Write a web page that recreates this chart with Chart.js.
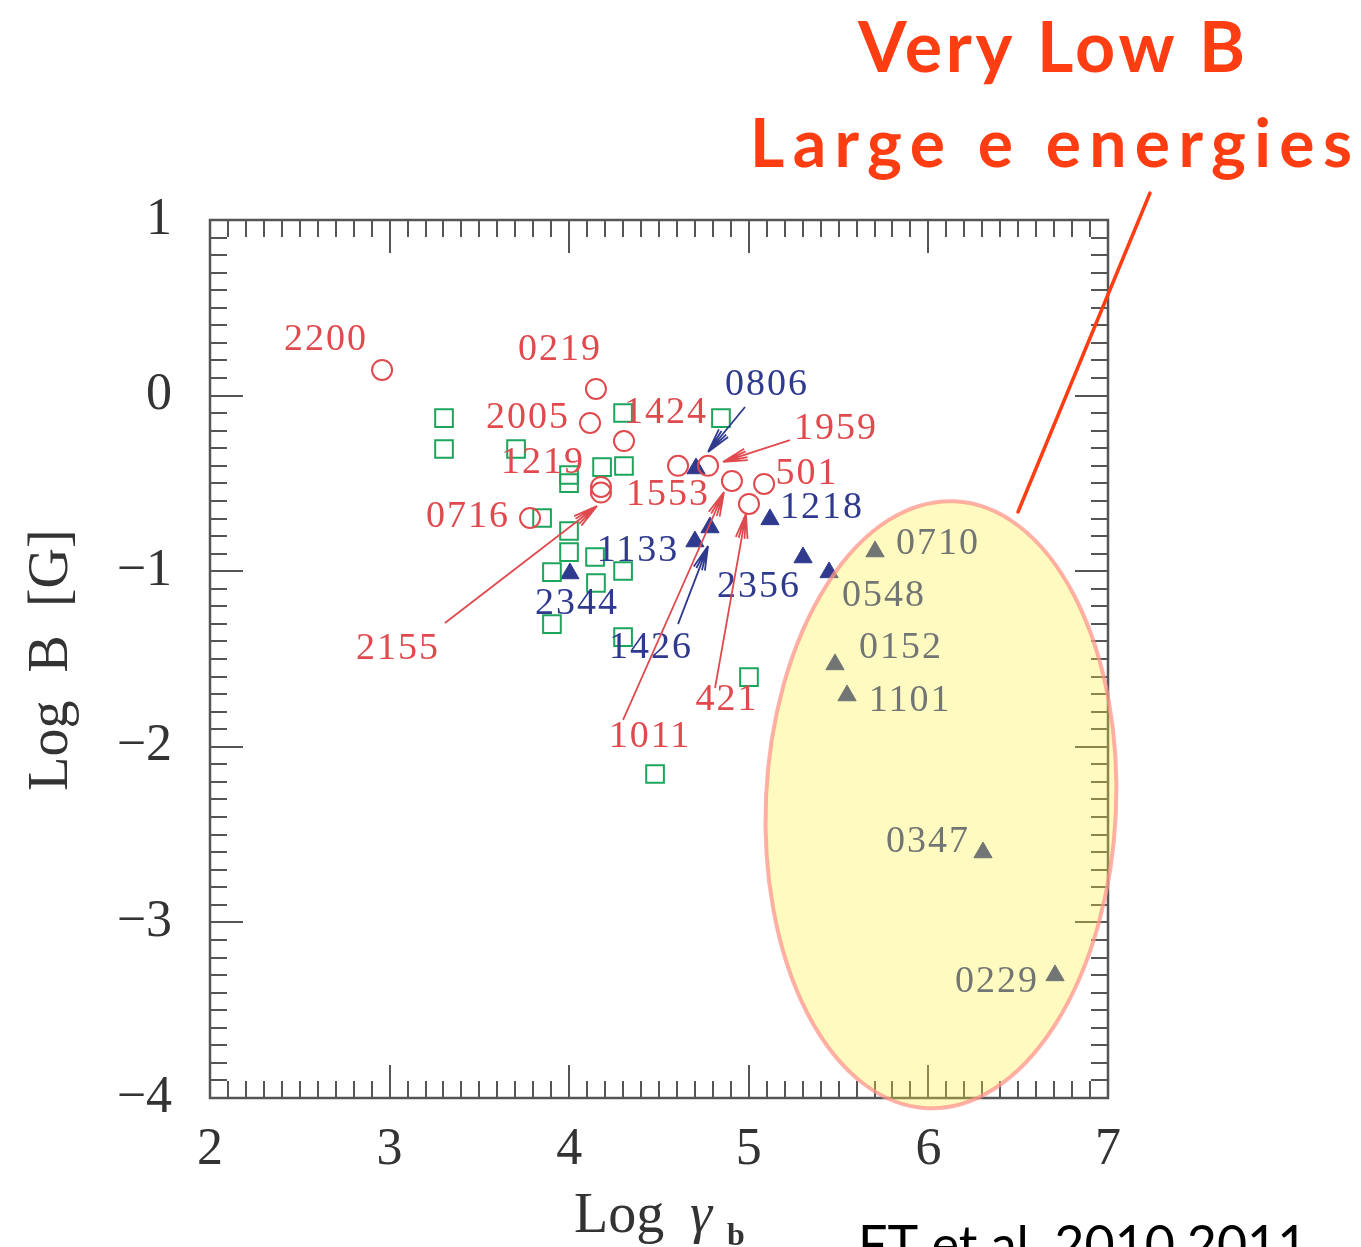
<!DOCTYPE html>
<html>
<head>
<meta charset="utf-8">
<script src="https://cdn.jsdelivr.net/npm/chart.js@4/dist/chart.umd.min.js"></script>
<style>
  html, body { margin: 0; padding: 0; background: #fff; }
  #wrap { width: 1361px; height: 1247px; position: relative; overflow: hidden; }
</style>
</head>
<body>
<div id="wrap"><canvas id="plot" width="1361" height="1247"></canvas></div>
<script>
// ---- data: log gamma_b (x) vs log B (y) ----
// red open circles
const circleX = [2.958, 4.149, 4.116, 4.305, 4.177, 4.177, 3.782, 4.606, 4.773, 4.906, 5.085, 5.001];
const circleY = [0.146, 0.038, -0.156, -0.259, -0.520, -0.552, -0.697, -0.400, -0.400, -0.486, -0.503, -0.617];

// green open squares
const squareX = [3.303, 3.303, 3.704, 3.849, 4.300, 4.845, 3.999, 3.999, 4.183, 4.305,
                 3.999, 3.999, 4.144, 3.904, 4.300, 4.149, 3.904, 4.300, 5.001, 4.478];
const squareY = [-0.128, -0.304, -0.304, -0.697, -0.099, -0.128, -0.452, -0.498, -0.407, -0.401,
                 -0.771, -0.891, -0.919, -1.005, -0.999, -1.067, -1.301, -1.375, -1.603, -2.155];

// blue filled triangles
const triX = [4.706, 4.784, 4.700, 5.118, 5.302, 4.004, 5.447, 5.703, 5.480, 5.547, 6.304, 6.705];
const triY = [-0.415, -0.751, -0.831, -0.705, -0.922, -1.013, -1.007, -0.888, -1.531, -1.708, -2.602, -3.302];

// source names, placed in data coordinates
const redNames  = ['2200', '0219', '2005', '1424', '1219', '0716', '1553', '501', '1959', '2155', '421', '1011'];
const redNameX  = [2.646, 3.949, 3.771, 4.539, 3.854, 3.437, 4.550, 5.324, 5.486, 3.047, 4.879, 4.450];
const redNameY  = [0.317, 0.260, -0.128, -0.099, -0.384, -0.691, -0.566, -0.446, -0.190, -1.443, -1.733, -1.944];

const blueNames = ['0806', '1218', '1133', '2344', '2356', '1426', '0710', '0548', '0152', '1101', '0347', '0229'];
const blueNameX = [5.101, 5.408, 4.383, 4.043, 5.057, 4.455, 6.053, 5.753, 5.847, 5.898, 5.998, 6.382];
const blueNameY = [0.060, -0.640, -0.885, -1.187, -1.090, -1.437, -0.845, -1.141, -1.437, -1.739, -2.542, -3.339];

// arrows from a name to its point: [x0, y0, x1, y1]
const redArrows = [
  [5.229, -0.253, 4.856, -0.378],   // 1959
  [3.308, -1.295, 4.155, -0.629],   // 2155
  [4.300, -1.847, 4.862, -0.549],   // 1011
  [4.812, -1.665, 4.984, -0.674]    // 421
];
const blueArrows = [
  [4.979, -0.065, 4.773, -0.321],   // 0806
  [4.606, -1.301, 4.773, -0.856]    // 1426
];

// axis ranges
const xMin = 2, xMax = 7;
const yMin = -4, yMax = 1;

// highlighted region (data units)
const blobCenter = [6.07, -2.33];
const blobRadius = [0.975, 1.73];

const RED = '#e04a4e';
const GREEN = '#1ea55c';
const NAVY = '#2f3a8e';
const NOTE = '#ff3d12';

function pts(xs, ys) { return xs.map((v, i) => ({ x: v, y: ys[i] })); }
function minusLabel(v) { return v < 0 ? '\u2212' + Math.abs(v) : String(v); }

// frame with inward major/minor ticks on all four sides
const frameTicks = {
  id: 'frameTicks',
  beforeDatasetsDraw(chart) {
    const { ctx, chartArea: a, scales: { x, y } } = chart;
    ctx.save();
    ctx.strokeStyle = '#555';
    ctx.lineWidth = 2;
    ctx.beginPath();
    for (let i = xMin * 10; i <= xMax * 10; i++) {
      const px = Math.round(x.getPixelForValue(i / 10));
      const len = i % 10 === 0 ? 33 : 17;
      ctx.moveTo(px, a.bottom); ctx.lineTo(px, a.bottom - len);
      ctx.moveTo(px, a.top); ctx.lineTo(px, a.top + len);
    }
    for (let i = yMin * 10; i <= yMax * 10; i++) {
      const py = Math.round(y.getPixelForValue(i / 10));
      const len = i % 10 === 0 ? 33 : 17;
      ctx.moveTo(a.left, py); ctx.lineTo(a.left + len, py);
      ctx.moveTo(a.right, py); ctx.lineTo(a.right - len, py);
    }
    ctx.stroke();
    ctx.lineWidth = 2.5;
    ctx.strokeRect(a.left, a.top, a.right - a.left, a.bottom - a.top);
    ctx.restore();
  }
};

function drawArrow(ctx, x0, y0, x1, y1) {
  const ang = Math.atan2(y1 - y0, x1 - x0);
  ctx.beginPath();
  ctx.moveTo(x0, y0);
  ctx.lineTo(x1, y1);
  [-0.24, -0.12, 0.12, 0.24].forEach(d => {
    ctx.moveTo(x1, y1);
    ctx.lineTo(x1 - 25 * Math.cos(ang + d), y1 - 25 * Math.sin(ang + d));
  });
  ctx.stroke();
}

// spread a line of text over a given width using letter spacing
function fillSpread(ctx, text, left, baseline, width) {
  ctx.letterSpacing = '0px';
  const w = ctx.measureText(text).width;
  const gap = (width - w) / (text.length - 1);
  ctx.letterSpacing = gap.toFixed(2) + 'px';
  ctx.fillText(text, left, baseline);
  ctx.letterSpacing = '0px';
}

// names, arrows, axis titles, highlighted region and the note
const overlay = {
  id: 'overlay',
  afterDatasetsDraw(chart) {
    const { ctx, scales: { x, y } } = chart;
    ctx.save();
    ctx.font = '38px "Liberation Serif"';
    ctx.letterSpacing = '2px';
    ctx.textAlign = 'center';
    ctx.textBaseline = 'middle';
    ctx.fillStyle = RED;
    redNames.forEach((t, i) => ctx.fillText(t, x.getPixelForValue(redNameX[i]), y.getPixelForValue(redNameY[i])));
    ctx.fillStyle = NAVY;
    blueNames.forEach((t, i) => ctx.fillText(t, x.getPixelForValue(blueNameX[i]), y.getPixelForValue(blueNameY[i])));
    ctx.letterSpacing = '0px';

    ctx.lineWidth = 1.8;
    ctx.strokeStyle = RED;
    redArrows.forEach(a => drawArrow(ctx, x.getPixelForValue(a[0]), y.getPixelForValue(a[1]),
                                          x.getPixelForValue(a[2]), y.getPixelForValue(a[3])));
    ctx.strokeStyle = NAVY;
    blueArrows.forEach(a => drawArrow(ctx, x.getPixelForValue(a[0]), y.getPixelForValue(a[1]),
                                           x.getPixelForValue(a[2]), y.getPixelForValue(a[3])));

    // axis titles
    ctx.fillStyle = '#333';
    ctx.textBaseline = 'alphabetic';
    ctx.textAlign = 'left';
    ctx.font = '56px "Liberation Serif"';
    ctx.fillText('Log', 574, 1232);
    ctx.font = 'italic 56px "Liberation Serif"';
    ctx.fillText('\u03b3', 690, 1232);
    ctx.font = 'bold 32px "Liberation Serif"';
    ctx.fillText('b', 727, 1245);

    ctx.save();
    ctx.translate(67, 660);
    ctx.rotate(-Math.PI / 2);
    ctx.textAlign = 'center';
    ctx.font = '56px "Liberation Serif"';
    ctx.fillText('Log  B  [G]', 0, 0);
    ctx.restore();

    // translucent highlight over the low-field sources
    const cx = x.getPixelForValue(blobCenter[0]);
    const cy = y.getPixelForValue(blobCenter[1]);
    const rx = x.getPixelForValue(blobCenter[0] + blobRadius[0]) - cx;
    const ry = cy - y.getPixelForValue(blobCenter[1] + blobRadius[1]);
    ctx.beginPath();
    ctx.ellipse(cx, cy, rx, ry, 0.045, 0, Math.PI * 2);
    ctx.fillStyle = 'rgba(255, 243, 60, 0.32)';
    ctx.fill();
    ctx.strokeStyle = 'rgba(255, 150, 140, 0.75)';
    ctx.lineWidth = 4;
    ctx.stroke();

    // handwritten note and its pointer
    ctx.strokeStyle = NOTE;
    ctx.lineWidth = 3.5;
    ctx.lineCap = 'round';
    ctx.beginPath();
    ctx.moveTo(1150, 193);
    ctx.lineTo(1018, 512);
    ctx.stroke();

    ctx.fillStyle = NOTE;
    ctx.font = 'bold 70px "Lato"';
    fillSpread(ctx, 'Very Low B', 858, 72, 387);
    ctx.font = 'bold 66px "Lato"';
    fillSpread(ctx, 'Large e energies', 750, 167, 602);

    ctx.fillStyle = '#000';
    ctx.font = '52px "Lato"';
    ctx.fillText('FT et al. 2010,2011', 858, 1263);
    ctx.restore();
  }
};

new Chart(document.getElementById('plot'), {
  type: 'scatter',
  data: {
    datasets: [
      {
        label: 'circles',
        data: pts(circleX, circleY),
        pointStyle: 'circle',
        pointRadius: 10,
        borderColor: RED,
        backgroundColor: 'rgba(0,0,0,0)',
        borderWidth: 2
      },
      {
        label: 'squares',
        data: pts(squareX, squareY),
        pointStyle: 'rect',
        pointRadius: 12.5,
        borderColor: GREEN,
        backgroundColor: 'rgba(0,0,0,0)',
        borderWidth: 2
      },
      {
        label: 'triangles',
        data: pts(triX, triY),
        pointStyle: 'triangle',
        pointRadius: 10.5,
        borderColor: NAVY,
        backgroundColor: NAVY,
        borderWidth: 1
      }
    ]
  },
  options: {
    responsive: false,
    devicePixelRatio: 1,
    animation: false,
    events: [],
    layout: { padding: { left: 0, top: 220, right: 253, bottom: 0 } },
    plugins: {
      legend: { display: false },
      tooltip: { enabled: false }
    },
    scales: {
      x: {
        type: 'linear',
        min: xMin,
        max: xMax,
        grid: { display: false },
        border: { display: false },
        ticks: {
          stepSize: 1,
          padding: 13,
          color: '#333',
          font: { family: 'Liberation Serif', size: 52 },
          callback: minusLabel
        },
        afterFit(s) { s.height = 149; }
      },
      y: {
        type: 'linear',
        min: yMin,
        max: yMax,
        grid: { display: false },
        border: { display: false },
        ticks: {
          stepSize: 1,
          padding: 30,
          color: '#333',
          font: { family: 'Liberation Serif', size: 52 },
          callback: minusLabel
        },
        afterFit(s) { s.width = 210; }
      }
    }
  },
  plugins: [frameTicks, overlay]
});
</script>
</body>
</html>
